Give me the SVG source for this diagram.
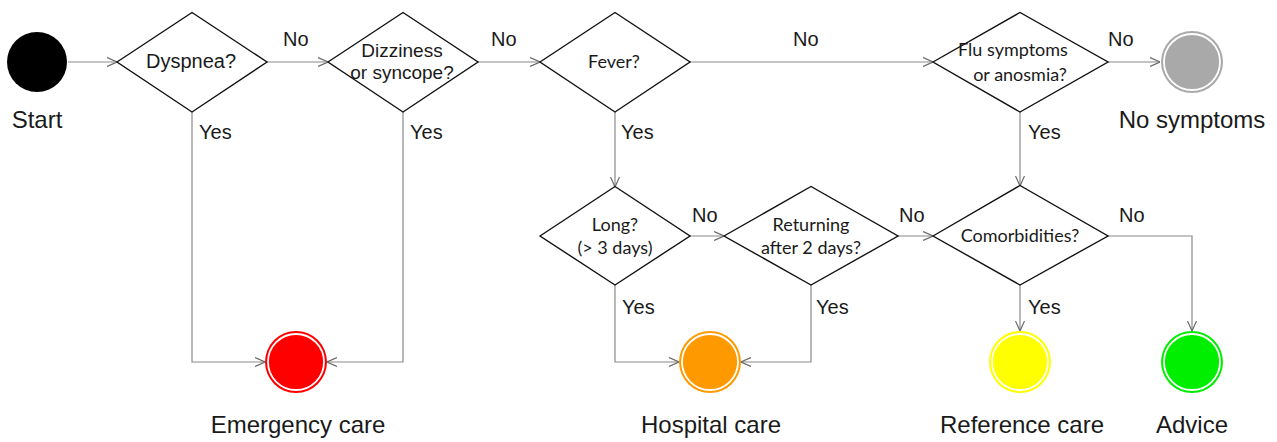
<svg xmlns="http://www.w3.org/2000/svg" width="1277" height="442" viewBox="0 0 1277 442">
<style>
.dia{fill:#fff;stroke:#111;stroke-width:1.4}
.con{fill:none;stroke:#8a8a8a;stroke-width:1.2}
.lbl{font-family:"Liberation Sans",Arial,sans-serif;font-size:20px;fill:#1a1a1a}
.big{font-family:"Liberation Sans",Arial,sans-serif;font-size:24px;fill:#1a1a1a;text-anchor:middle}
.qa{font-family:"Liberation Sans",Arial,sans-serif;fill:#1a1a1a;text-anchor:middle}
.qc{font-family:Lato,"Liberation Sans",sans-serif;font-size:18px;fill:#1a1a1a;text-anchor:middle}
.ring{stroke:#fff;stroke-width:1.8}
</style>
<defs>
<marker id="arr" viewBox="0 0 10 10" refX="10" refY="5" markerWidth="10" markerHeight="10" markerUnits="userSpaceOnUse" orient="auto">
<path d="M0,0.5 L10,5 L0,9.5" fill="none" stroke="#6a6a6a" stroke-width="1.2"/>
</marker>
</defs>
<g id="connectors">
<path class="con" d="M68,62 H117" marker-end="url(#arr)"/>
<path class="con" d="M267,62 H328" marker-end="url(#arr)"/>
<path class="con" d="M478,62 H540" marker-end="url(#arr)"/>
<path class="con" d="M690,62 H933" marker-end="url(#arr)"/>
<path class="con" d="M1108,62 H1160" marker-end="url(#arr)"/>
<path class="con" d="M615,112 V187" marker-end="url(#arr)"/>
<path class="con" d="M690,236 H724" marker-end="url(#arr)"/>
<path class="con" d="M898,236 H933" marker-end="url(#arr)"/>
<path class="con" d="M1020,112 V186" marker-end="url(#arr)"/>
<path class="con" d="M192,112 V362 H265" marker-end="url(#arr)"/>
<path class="con" d="M403,112 V362 H327" marker-end="url(#arr)"/>
<path class="con" d="M615,285 V362 H679" marker-end="url(#arr)"/>
<path class="con" d="M811,285 V362 H741" marker-end="url(#arr)"/>
<path class="con" d="M1020,285 V331" marker-end="url(#arr)"/>
<path class="con" d="M1108,236 H1192 V331" marker-end="url(#arr)"/>
<text class="lbl" x="283" y="46">No</text>
<text class="lbl" x="491" y="46">No</text>
<text class="lbl" x="793" y="46">No</text>
<text class="lbl" x="1108" y="46">No</text>
<text class="lbl" x="199" y="139">Yes</text>
<text class="lbl" x="410" y="139">Yes</text>
<text class="lbl" x="621" y="139">Yes</text>
<text class="lbl" x="1028" y="139">Yes</text>
<text class="lbl" x="692" y="222">No</text>
<text class="lbl" x="899" y="222">No</text>
<text class="lbl" x="1119" y="222">No</text>
<text class="lbl" x="622" y="314">Yes</text>
<text class="lbl" x="816" y="314">Yes</text>
<text class="lbl" x="1028" y="314">Yes</text>
</g>
<g id="start">
<circle cx="37" cy="62" r="30" fill="#000"/>
<text class="big" x="37" y="128">Start</text>
</g>
<g id="dyspnea">
<polygon class="dia" points="117,62 192,12.5 267,62 192,112"/>
<text class="qa" x="191" y="68" font-size="20">Dyspnea?</text>
</g>
<g id="dizziness">
<polygon class="dia" points="328,62 403,12.5 478,62 403,112"/>
<text class="qa" x="402" y="57" font-size="19">Dizziness</text>
<text class="qa" x="402" y="79" font-size="19">or syncope?</text>
</g>
<g id="fever">
<polygon class="dia" points="540,62 615,12.5 690,62 615,112"/>
<text class="qc" x="614" y="68">Fever?</text>
</g>
<g id="flu">
<polygon class="dia" points="933,62 1020,12.5 1108,62 1020,112"/>
<text class="qc" x="1013" y="56">Flu symptoms</text>
<text class="qc" x="1020" y="81">or anosmia?</text>
</g>
<g id="nosymptoms">
<circle cx="1192" cy="62" r="31" fill="#a9a9a9"/>
<circle cx="1192" cy="62" r="28" fill="#a9a9a9" class="ring"/>
<text class="big" x="1192" y="128">No symptoms</text>
</g>
<g id="long">
<polygon class="dia" points="540,236 615,186.5 690,236 615,285"/>
<text class="qc" x="615" y="231">Long?</text>
<text class="qc" x="615" y="254">(&gt; 3 days)</text>
</g>
<g id="returning">
<polygon class="dia" points="724,236 811,186.5 898,236 811,285"/>
<text class="qc" x="811" y="231">Returning</text>
<text class="qc" x="811" y="254">after 2 days?</text>
</g>
<g id="comorbidities">
<polygon class="dia" points="933,236 1020,185.5 1108,236 1020,285"/>
<text class="qc" x="1020" y="242">Comorbidities?</text>
</g>
<g id="emergency">
<circle cx="296" cy="362" r="31" fill="#ff0000"/>
<circle cx="296" cy="362" r="28" fill="#ff0000" class="ring"/>
<text class="big" x="298" y="433">Emergency care</text>
</g>
<g id="hospital">
<circle cx="710" cy="362" r="31" fill="#ff9900"/>
<circle cx="710" cy="362" r="28" fill="#ff9900" class="ring"/>
<text class="big" x="711" y="433">Hospital care</text>
</g>
<g id="reference">
<circle cx="1020" cy="362" r="31" fill="#ffff00"/>
<circle cx="1020" cy="362" r="28" fill="#ffff00" class="ring"/>
<text class="big" x="1022" y="433">Reference care</text>
</g>
<g id="advice">
<circle cx="1192" cy="362" r="31" fill="#00ee00"/>
<circle cx="1192" cy="362" r="28" fill="#00ee00" class="ring"/>
<text class="big" x="1192" y="433">Advice</text>
</g>
</svg>
